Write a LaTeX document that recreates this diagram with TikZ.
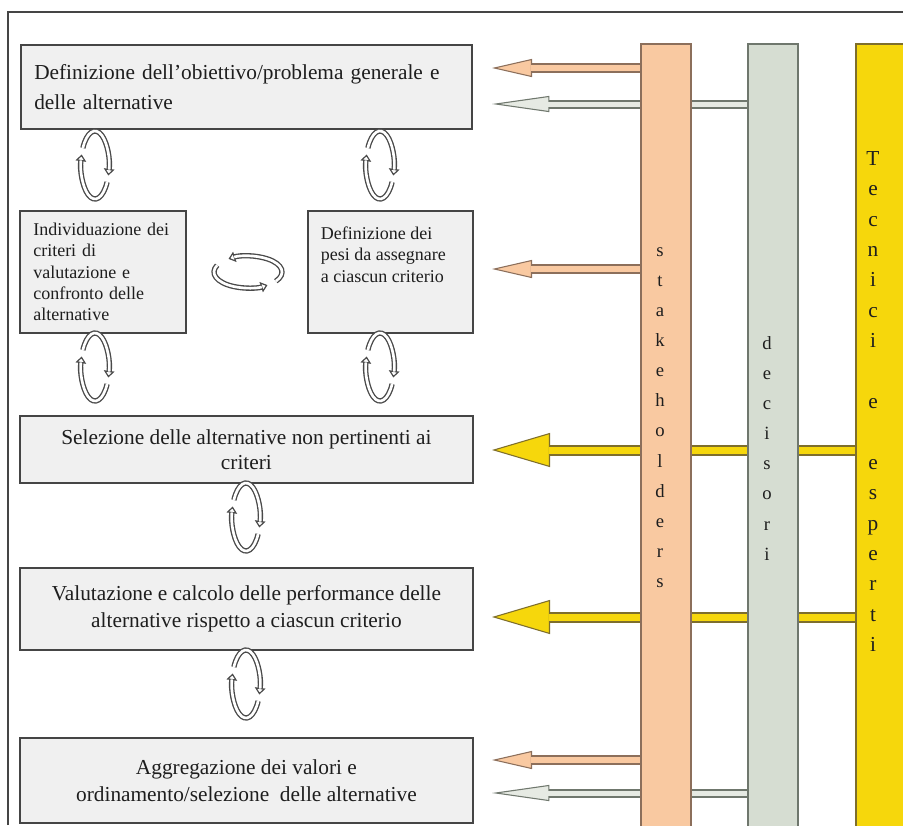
\documentclass[tikz,border=0pt]{standalone}
\usepackage{fontspec}
\setmainfont{Liberation Serif}
\usepackage{xcolor}
\definecolor{peach}{HTML}{F9C9A1}
\definecolor{peachedge}{HTML}{8C6F5B}
\definecolor{sage}{HTML}{D6DDD2}
\definecolor{sagepale}{HTML}{E6EAE3}
\definecolor{sageedge}{HTML}{6F776D}
\definecolor{gold}{HTML}{F6D70C}
\definecolor{goldedge}{HTML}{7E6E2C}
\definecolor{boxgrey}{HTML}{F0F0F0}
\definecolor{boxedge}{HTML}{454545}
\definecolor{iconedge}{HTML}{4A4A4A}
\definecolor{ink}{HTML}{1E1E1E}
\usetikzlibrary{arrows.meta,backgrounds}
\tikzset{
  stepbox/.style ={draw=boxedge,fill=boxgrey,line width=1.4pt,anchor=north west,
                   inner sep=0pt,text=ink,font=\fontsize{16}{22.5}\selectfont,align=center},
  smallbox/.style={stepbox,font=\fontsize{13.5}{16}\selectfont,align=left},
  colbar/.style  ={anchor=north west,line width=1.5pt,inner sep=0pt,
                   minimum width=37.5pt,minimum height=591pt},
  colword/.style ={align=center,inner sep=0pt,text=ink,anchor=north,
                   font=\fontsize{14}{22.6}\selectfont},
  cyc/.style     ={draw=iconedge,line width=4pt,
                   -{Triangle[length=5pt,width=8pt,fill=white,line width=0.9pt]},
                   postaction={draw=white,line width=2pt,-,shorten >=4.5pt}},
  feedpeach/.style={draw=peachedge,line width=7.5pt,
                   -{Triangle[length=30pt,width=13.5pt,fill=peach,line width=0.8pt]},
                   postaction={draw=peach,line width=4.5pt,-,shorten >=29pt}},
  feedsage/.style ={draw=sageedge,line width=6.75pt,
                   -{Triangle[length=43pt,width=12pt,fill=sagepale,line width=0.8pt]},
                   postaction={draw=sagepale,line width=3.75pt,-,shorten >=42pt}},
  feedgold/.style ={draw=goldedge,line width=8.25pt,
                   -{Triangle[length=43.5pt,width=25.5pt,fill=gold,line width=0.8pt]},
                   postaction={draw=gold,line width=5.25pt,-,shorten >=42.5pt}},
}
% vertical and horizontal cycle icons
\newcommand{\cycv}[2]{%
  \draw[cyc] (#1,#2) ++(30:14 and 34) arc[start angle=30,end angle=198,x radius=14,y radius=34];
  \draw[cyc] (#1,#2) ++(210:14 and 34) arc[start angle=210,end angle=378,x radius=14,y radius=34];}
\newcommand{\cych}[2]{%
  \draw[cyc] (#1,#2) ++(205:34 and 16) arc[start angle=205,end angle=55,x radius=34,y radius=16];
  \draw[cyc] (#1,#2) ++(35:34 and 16) arc[start angle=35,end angle=-125,x radius=34,y radius=16];}

\begin{document}
\begin{tikzpicture}[x=0.75pt,y=-0.75pt]
\useasboundingbox (0,0) rectangle (903,825);
\begin{scope}[on background layer]
\fill[white] (0,0) rectangle (903,825);
\draw[boxedge,line width=1.1pt] (8,825) -- (8,12) -- (903,12);
\end{scope}
% process boxes
\node[stepbox,align=left,inner xsep=10pt,text width=318.25pt,minimum height=63pt] (b1) at (20,44)
 {Definizione dell’obiettivo/problema generale e\\delle alternative};
\node[smallbox,inner xsep=10pt,text width=104.5pt,minimum height=91.5pt] (b2) at (19,210)
 {Individuazione dei\\criteri di\\valutazione e\\confronto delle\\alternative};
\node[smallbox,minimum width=123.75pt,minimum height=91.5pt] (b3) at (307,210) {};
\node[smallbox,draw=none,fill=none,anchor=north west] (b3txt) at (320,226)
 {Definizione dei\\pesi da assegnare\\a ciascun criterio};
\node[stepbox,minimum width=339.75pt,minimum height=50.25pt,font=\fontsize{16}{19}\selectfont] (b4) at (19,415)
 {Selezione delle alternative non pertinenti ai\\criteri};
\node[stepbox,minimum width=339.75pt,minimum height=61.5pt,font=\fontsize{16}{20}\selectfont] (b5) at (19,567)
 {Valutazione e calcolo delle performance delle\\alternative rispetto a ciascun criterio};
\node[stepbox,minimum width=339.75pt,minimum height=63.75pt,font=\fontsize{16}{20}\selectfont] (b6) at (19,737)
 {Aggregazione dei valori e\\ordinamento/selezione~ delle alternative};
% cycle icons
\cycv{95}{165} \cycv{380}{165}
\cych{248}{272}
\cycv{95}{367} \cycv{380}{367}
\cycv{246}{517}
\cycv{246}{684}
% actor columns
\node[colbar,draw=peachedge,fill=peach] (stk) at (640,43) {};
\node[colbar,draw=sageedge,fill=sage] (dec) at (747,43) {};
\node[colbar,draw=goldedge,fill=gold,minimum width=45pt] (tec) at (855,43) {};
\node[colword] (stkword) at (660,247) {s\\t\\a\\k\\e\\h\\o\\l\\d\\e\\r\\s};
\node[colword] (decword) at (767,336) {d\\e\\c\\i\\s\\o\\r\\i};
\node[colword,font=\fontsize{16}{22.8}\selectfont] (tecword) at (873,151)
 {T\\e\\c\\n\\i\\c\\i\\\mbox{}\\e\\\mbox{}\\e\\s\\p\\e\\r\\t\\i};
% feedback arrows
\coordinate (tipx) at (492,0);
\coordinate (lv1) at (0,68);
\coordinate (lv2) at (0,104);
\coordinate (lv3) at (0,269);
\coordinate (lv4) at (0,450);
\coordinate (lv5) at (0,617);
\coordinate (lv6) at (0,760);
\coordinate (lv7) at (0,793);
\begin{scope}[on background layer]
\draw[feedpeach] (stk.west |- lv1) -- (tipx |- lv1);
\draw[feedsage] (dec.west |- lv2) -- (tipx |- lv2);
\draw[feedpeach] (stk.west |- lv3) -- (tipx |- lv3);
\draw[feedgold] (tec.west |- lv4) -- (tipx |- lv4);
\draw[feedgold] (tec.west |- lv5) -- (tipx |- lv5);
\draw[feedpeach] (stk.west |- lv6) -- (tipx |- lv6);
\draw[feedsage] (dec.west |- lv7) -- (tipx |- lv7);
\end{scope}
\end{tikzpicture}
\end{document}
